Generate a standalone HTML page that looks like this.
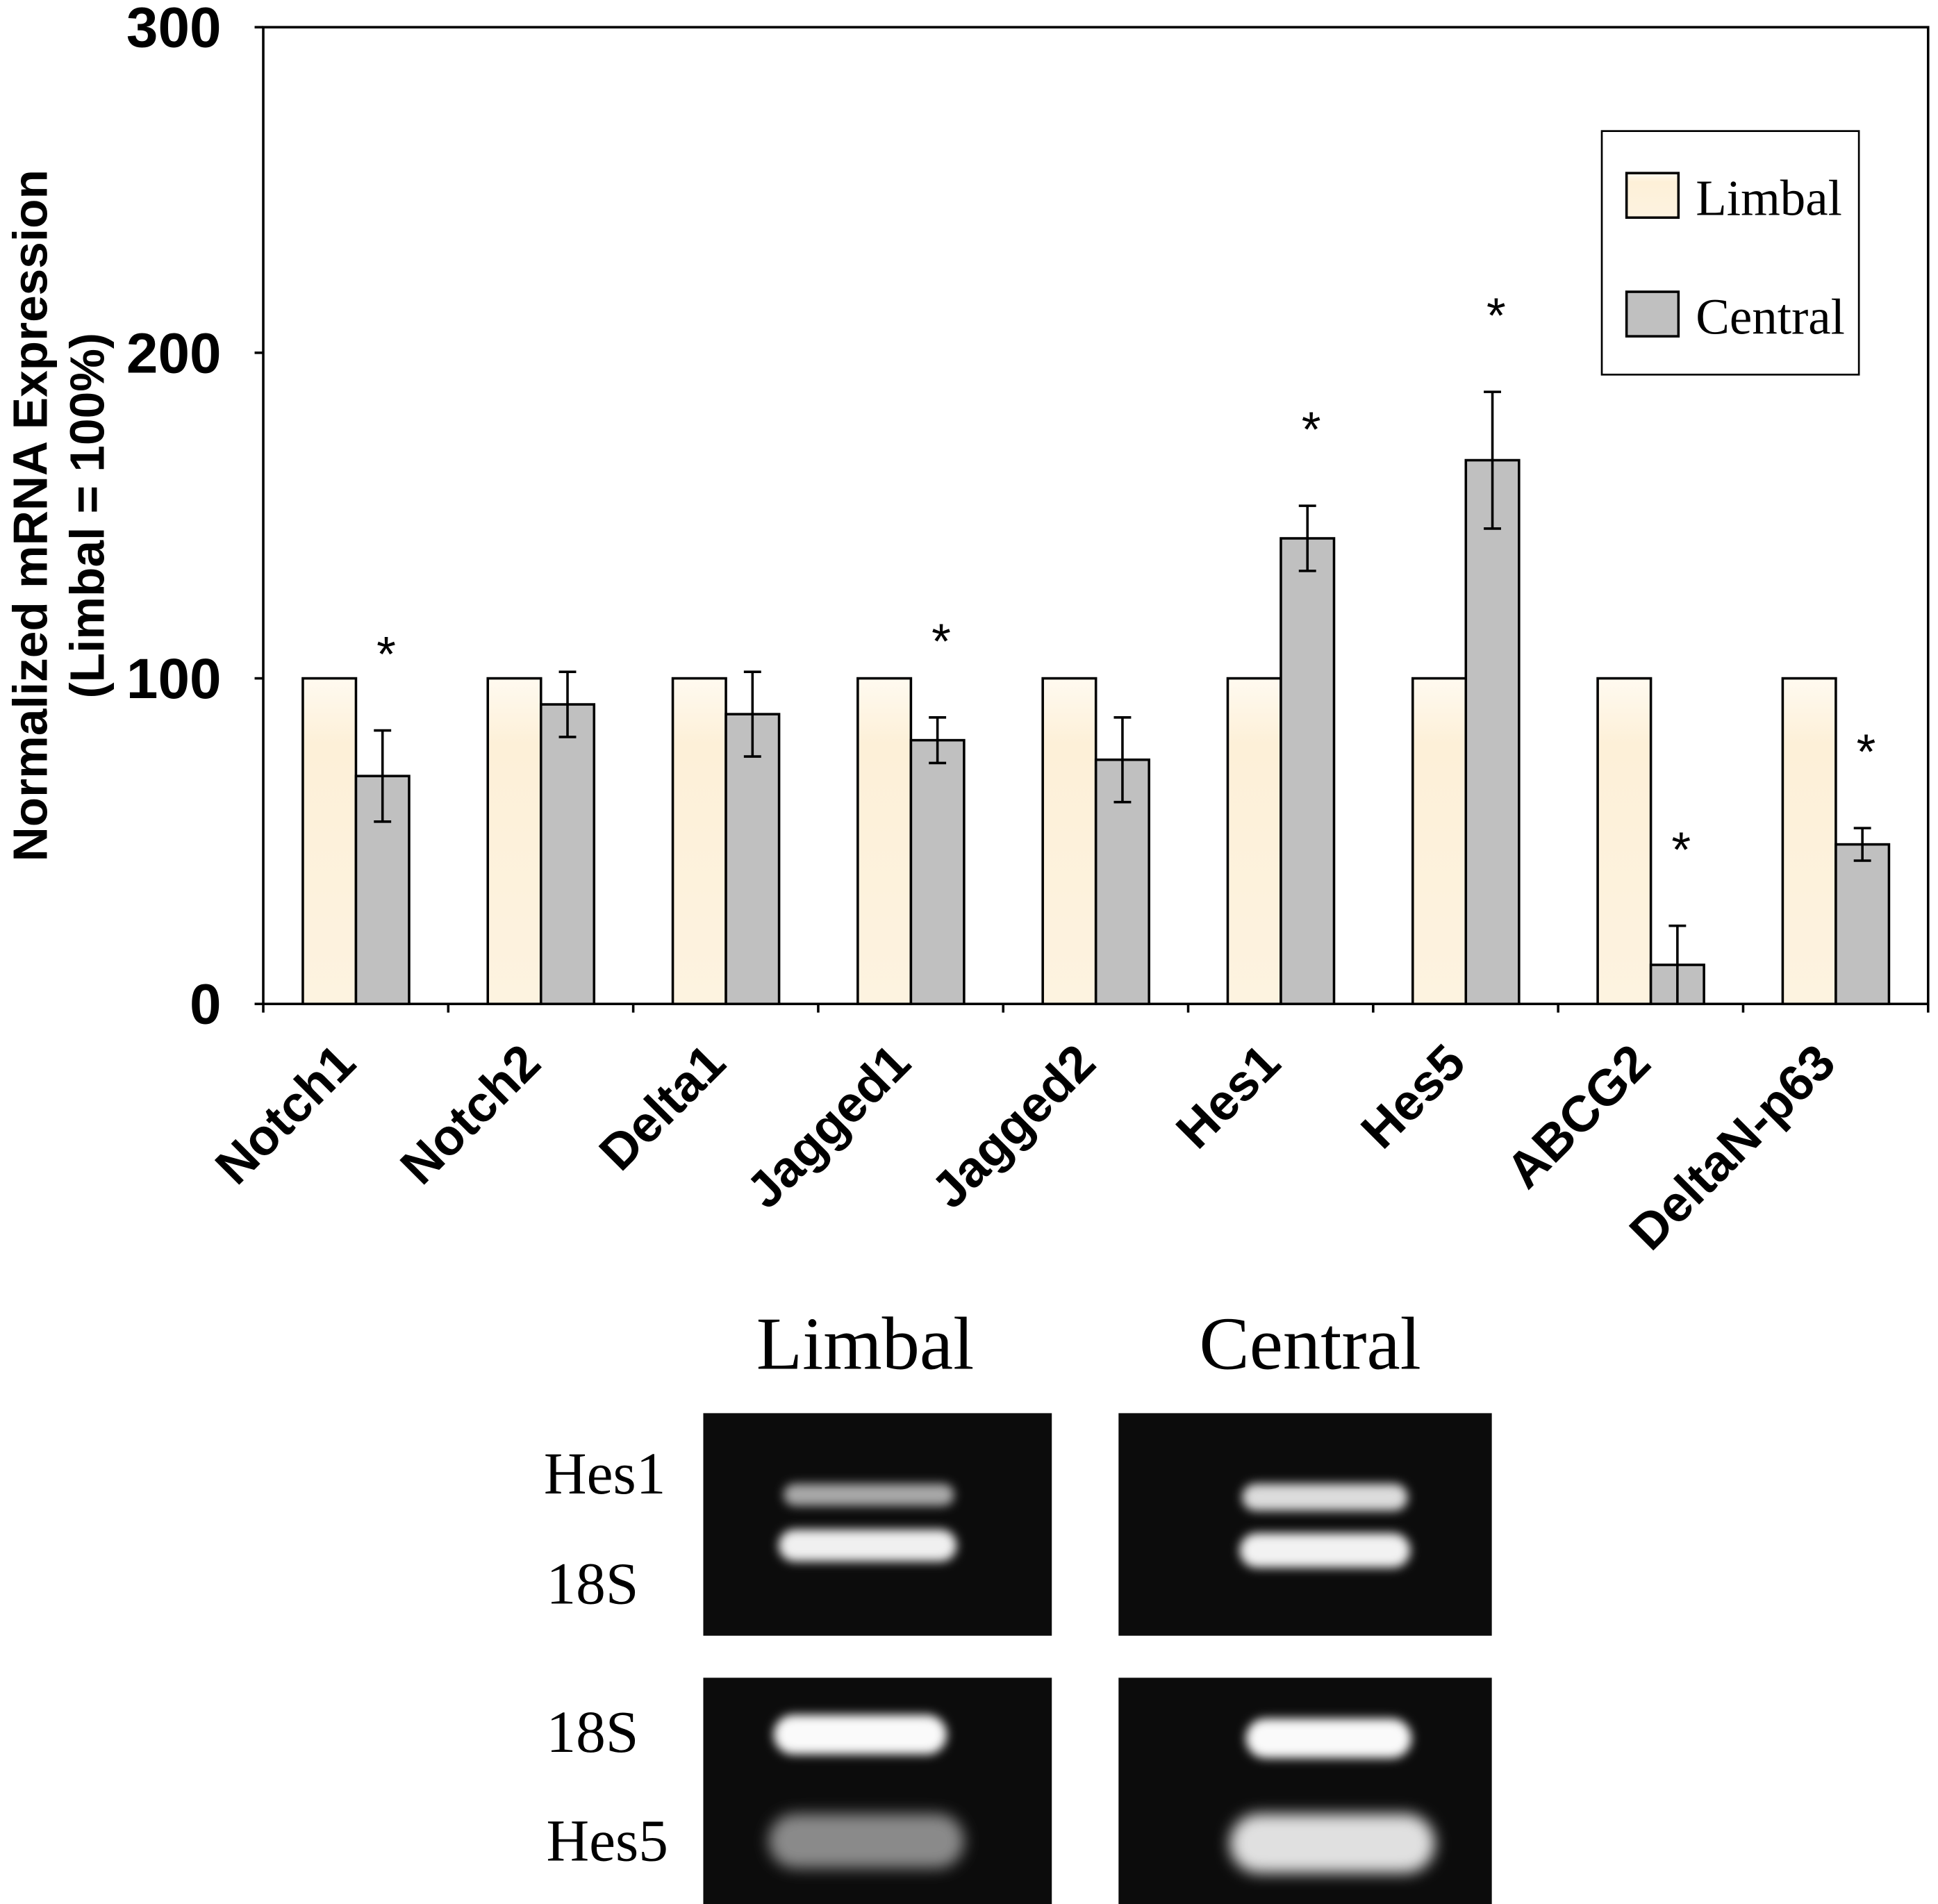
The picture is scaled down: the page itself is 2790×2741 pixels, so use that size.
<!DOCTYPE html>
<html><head><meta charset="utf-8">
<style>
html,body{margin:0;padding:0;background:#fff;}
svg{display:block;}
</style></head>
<body>
<svg id="chart" width="2790" height="2741" viewBox="0 0 1568 1540" preserveAspectRatio="none" xmlns="http://www.w3.org/2000/svg">
<defs>
<linearGradient id="limbalGrad" x1="0" y1="0" x2="0" y2="1">
<stop offset="0" stop-color="#fffaf0"/><stop offset="0.2" stop-color="#fdf0d8"/><stop offset="1" stop-color="#fdf3e0"/>
</linearGradient>
<filter id="blur" x="-30%" y="-100%" width="160%" height="300%"><feGaussianBlur stdDeviation="4"/></filter>
<filter id="blur2" x="-30%" y="-100%" width="160%" height="300%"><feGaussianBlur stdDeviation="6"/></filter>
</defs>
<g id="plot"></g>
<g id="gel"></g>
</svg>
<script>
const categories = ["Notch1","Notch2","Delta1","Jagged1","Jagged2","Hes1","Hes5","ABCG2","DeltaN-p63"];
const limbalValues = [100,100,100,100,100,100,100,100,100];
const centralValues = [70,92,89,81,75,143,167,12,49];
const centralErrors = [14,10,13,7,13,10,21,12,5];
const significant = [true,false,false,true,false,true,true,true,true];
const yTicks = [0,100,200,300];

const NS="http://www.w3.org/2000/svg";
const L=213,R=1560,T=22,B=812;
const bw=(R-L)/categories.length;
function y(v){return B-(v/300)*(B-T);}
function mk(tag,attrs,parent){const e=document.createElementNS(NS,tag);for(const k in attrs)e.setAttribute(k,attrs[k]);parent.appendChild(e);return e;}
const plot=document.getElementById('plot');

const frame=mk('rect',{x:L,y:T,width:R-L,height:B-T,fill:'none',stroke:'#000','stroke-width':2},plot);



yTicks.forEach(t=>{
  const tk=mk('line',{x1:L-7,x2:L,y1:y(t),y2:y(t),stroke:'#000','stroke-width':2},plot);
  
  
  const tx=mk('text',{x:179,y:y(t)+16,'text-anchor':'end','font-family':'Liberation Sans, sans-serif','font-weight':'bold','font-size':46},plot);
  tx.textContent=t;
  
  
});
for(let i=0;i<=categories.length;i++){
  const xx=L+i*bw;
  const tk=mk('line',{x1:xx,x2:xx,y1:B,y2:B+7,stroke:'#000','stroke-width':2},plot);
  
  
}
const yt=mk('text',{transform:'translate(38,417) rotate(-90)','text-anchor':'middle','font-family':'Liberation Sans, sans-serif','font-weight':'bold','font-size':39},plot);


const t1=mk('tspan',{x:0,dy:0},yt);t1.textContent='Normalized mRNA Expression';
const t2=mk('tspan',{x:0,dy:46},yt);t2.textContent='(Limbal = 100%)';

categories.forEach((c,i)=>{
  const x0=L+i*bw+32;
  const w=43;
  const lb=mk('rect',{x:x0,y:y(limbalValues[i]),width:w,height:B-y(limbalValues[i]),fill:'url(#limbalGrad)',stroke:'#000','stroke-width':2},plot);
  
  
  const cb=mk('rect',{x:x0+w,y:y(centralValues[i]),width:w,height:B-y(centralValues[i]),fill:'#c0c0c0',stroke:'#000','stroke-width':2},plot);
  
  
  const cx=x0+w*1.5;
  const hi=y(centralValues[i]+centralErrors[i]), lo=y(Math.max(0,centralValues[i]-centralErrors[i]));
  const eb=mk('path',{d:`M${cx},${hi}V${lo}M${cx-7},${hi}H${cx+7}M${cx-7},${lo}H${cx+7}`,stroke:'#000','stroke-width':2,fill:'none'},plot);
  
  
  if(significant[i]){
    const s=mk('text',{x:cx+3,y:hi-48,'text-anchor':'middle','font-family':'Liberation Sans, sans-serif','font-size':40},plot);
    s.textContent='*';
    
    
  }
  const lx=L+i*bw+bw/2+2, ly=862;
  const xl=mk('text',{transform:`translate(${lx},${ly}) rotate(-45)`,'text-anchor':'end','font-family':'Liberation Sans, sans-serif','font-weight':'bold','font-size':41},plot);
  xl.textContent=c;
  
  
});

const lg=mk('g',{},plot);


mk('rect',{x:1296,y:106,width:208,height:197,fill:'#fff',stroke:'#000','stroke-width':1.5},lg);
[['Limbal','url(#limbalGrad)',140],['Central','#c0c0c0',236]].forEach(([n,f,yy])=>{
  const sw=mk('rect',{x:1316,y:yy,width:42,height:36,fill:f,stroke:'#000','stroke-width':2},lg);
  
  
  const tx=mk('text',{x:1372,y:yy+34,'font-family':'Liberation Serif, serif','font-size':41},lg);
  tx.textContent=n;
  
  
});

const gel=document.getElementById('gel');
function txt(s,x,yy,size,anchor,name){const t=mk('text',{x:x,y:yy,'font-family':'Liberation Serif, serif','font-size':size,'text-anchor':anchor},gel);t.textContent=s;return t;}
txt('Limbal',700,1107,61,'middle','gel-title-limbal');
txt('Central',1060,1107,61,'middle','gel-title-central');
txt('Hes1',440,1208,48,'start','gel-label-hes1');
txt('18S',442,1297,48,'start','gel-label-18s-top');
txt('18S',442,1417,48,'start','gel-label-18s-bottom');
txt('Hes5',442,1505,48,'start','gel-label-hes5');
const panels=[[569,1143,282,180],[905,1143,302,180],[569,1357,282,183],[905,1357,302,183]];
panels.forEach((p,i)=>{
  const r=mk('rect',{x:p[0],y:p[1],width:p[2],height:p[3],fill:'#0c0c0c'},gel);
  
  
});
function band(x,yy,w,h,c,f){const b=mk('rect',{x:x,y:yy,width:w,height:h,rx:h/2,fill:c,filter:f},gel);}
band(634,1200,138,18,'#a8a8a8','url(#blur)');
band(630,1237,144,26,'#f0f0f0','url(#blur)');
band(1005,1200,134,22,'#dcdcdc','url(#blur)');
band(1003,1240,138,28,'#f2f2f2','url(#blur)');
band(626,1387,140,32,'#fafafa','url(#blur)');
band(1008,1390,134,32,'#fafafa','url(#blur)');
band(622,1467,158,44,'#8a8a8a','url(#blur2)');
band(995,1467,166,48,'#e0e0e0','url(#blur2)');
</script>
</body></html>
